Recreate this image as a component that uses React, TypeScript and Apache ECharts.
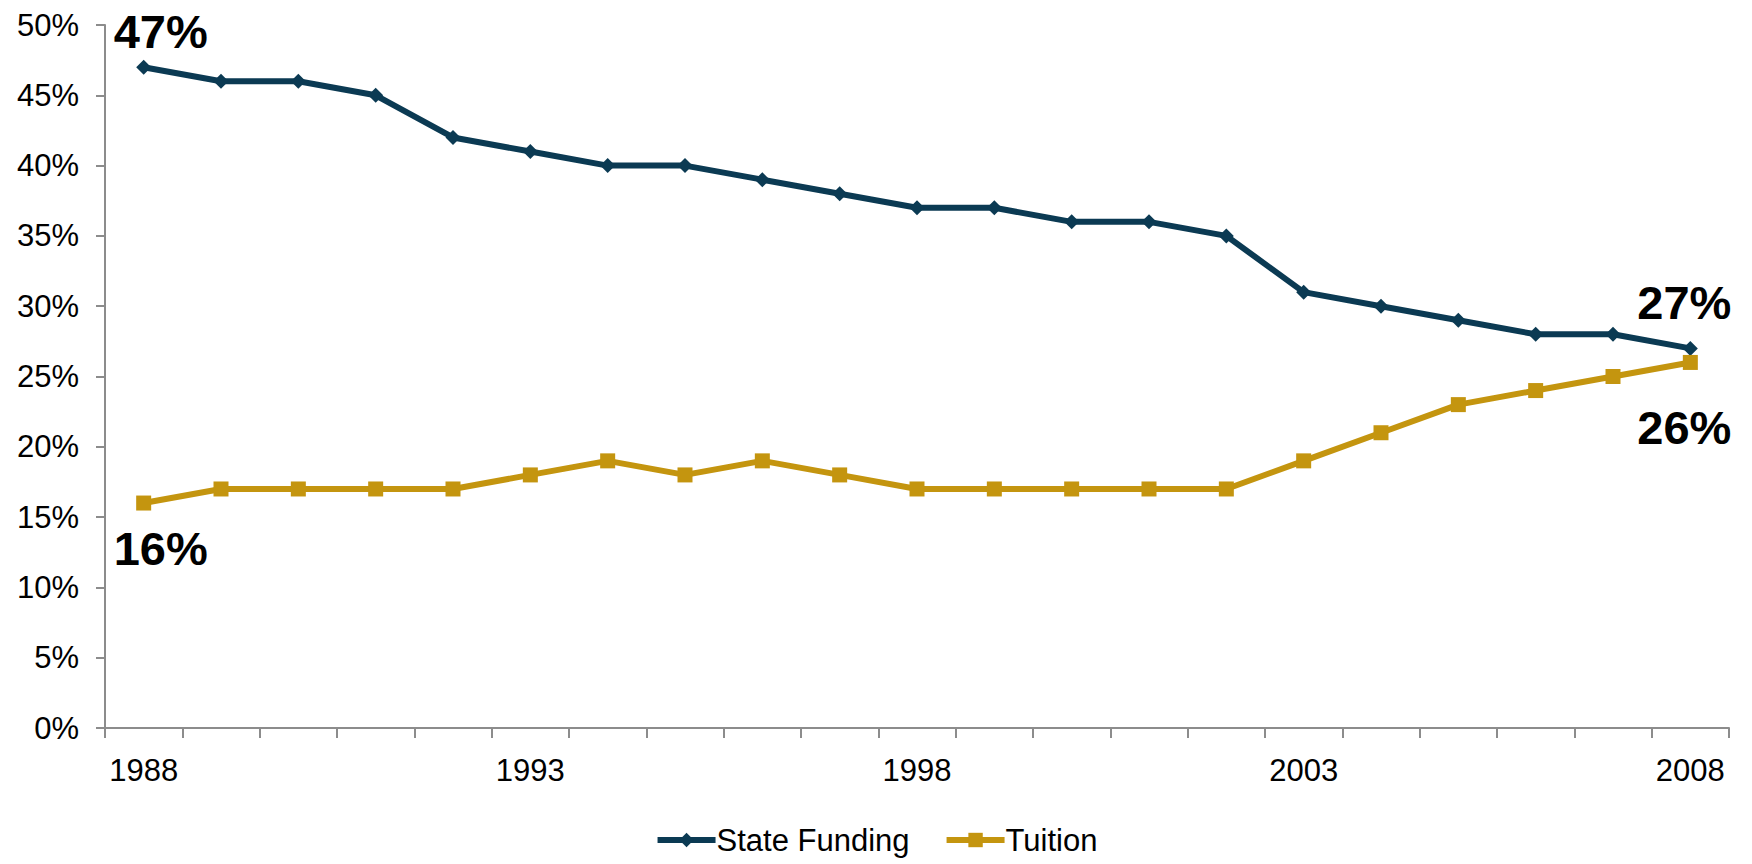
import React, { useEffect, useRef } from "react";
import * as echarts from "echarts";

const years = ["1988","1989","1990","1991","1992","1993","1994","1995","1996","1997","1998","1999","2000","2001","2002","2003","2004","2005","2006","2007","2008"];
const stateFunding = [47,46,46,45,42,41,40,40,39,38,37,37,36,36,35,31,30,29,28,28,27];
const tuition = [16,17,17,17,17,18,19,18,19,18,17,17,17,17,17,19,21,23,24,25,26];
const yTicks = { min: 0, max: 50, interval: 5 };

const FONT = "'Liberation Sans', Arial, sans-serif";
const NAVY = "#0B3A53";
const GOLD = "#C4950F";
const AXIS = "#8C8C8C";

const bigLabel = (extra: any) => ({
  show: true,
  formatter: "{c}%",
  fontFamily: FONT,
  fontSize: 47,
  lineHeight: 44,
  fontWeight: "bold",
  color: "#000",
  ...extra,
});

export default function App() {
  const ref = useRef<HTMLDivElement>(null);
  useEffect(() => {
    const chart = echarts.init(ref.current!, null, { renderer: "svg" });
    const last = years.length - 1;
    const sfData = stateFunding.map((v, i) => {
      if (i === 0) return { value: v, label: bigLabel({ position: "top", distance: 6, offset: [17, 0] }) };
      if (i === last) return { value: v, label: bigLabel({ position: "top", distance: 16, offset: [-6, 0] }) };
      return v;
    });
    const tuData = tuition.map((v, i) => {
      if (i === 0) return { value: v, label: bigLabel({ position: "bottom", distance: 16, offset: [17, 0] }) };
      if (i === last) return { value: v, label: bigLabel({ position: "bottom", distance: 36, offset: [-6, 0] }) };
      return v;
    });
    chart.setOption({
      animation: false,
      textStyle: { fontFamily: FONT },
      grid: { left: 105, right: 23, top: 25, bottom: 136, containLabel: false },
      legend: {
        top: 823,
        left: "center",
        padding: 0,
        itemWidth: 58,
        itemHeight: 18,
        itemGap: 34,
        lineStyle: { width: 6 },
        textStyle: { fontFamily: FONT, fontSize: 31, lineHeight: 34, color: "#000", padding: [0, 0, 0, -4] },
        data: ["State Funding", "Tuition"],
      },
      xAxis: {
        type: "category",
        data: years,
        boundaryGap: true,
        axisLine: { lineStyle: { color: AXIS, width: 2 } },
        axisTick: { show: true, interval: 0, length: 10, lineStyle: { color: AXIS, width: 2 } },
        axisLabel: { interval: 4, margin: 27, fontFamily: FONT, fontSize: 31, color: "#000" },
      },
      yAxis: {
        type: "value",
        min: yTicks.min,
        max: yTicks.max,
        interval: yTicks.interval,
        axisLine: { show: true, lineStyle: { color: AXIS, width: 2 } },
        axisTick: { show: true, length: 9, lineStyle: { color: AXIS, width: 2 } },
        splitLine: { show: false },
        axisLabel: { margin: 26, formatter: "{value}%", fontFamily: FONT, fontSize: 31, color: "#000" },
      },
      series: [
        {
          name: "State Funding",
          type: "line",
          data: sfData,
          symbol: "diamond",
          symbolSize: 15,
          itemStyle: { color: NAVY },
          lineStyle: { color: NAVY, width: 6 },
        },
        {
          name: "Tuition",
          type: "line",
          data: tuData,
          symbol: "rect",
          symbolSize: 15,
          itemStyle: { color: GOLD },
          lineStyle: { color: GOLD, width: 6 },
        },
      ],
    });
    return () => chart.dispose();
  }, []);
  return (
    <div
      ref={ref}
      style={{ position: "fixed", left: 0, top: 0, width: 1752, height: 864, background: "#fff" }}
    />
  );
}
